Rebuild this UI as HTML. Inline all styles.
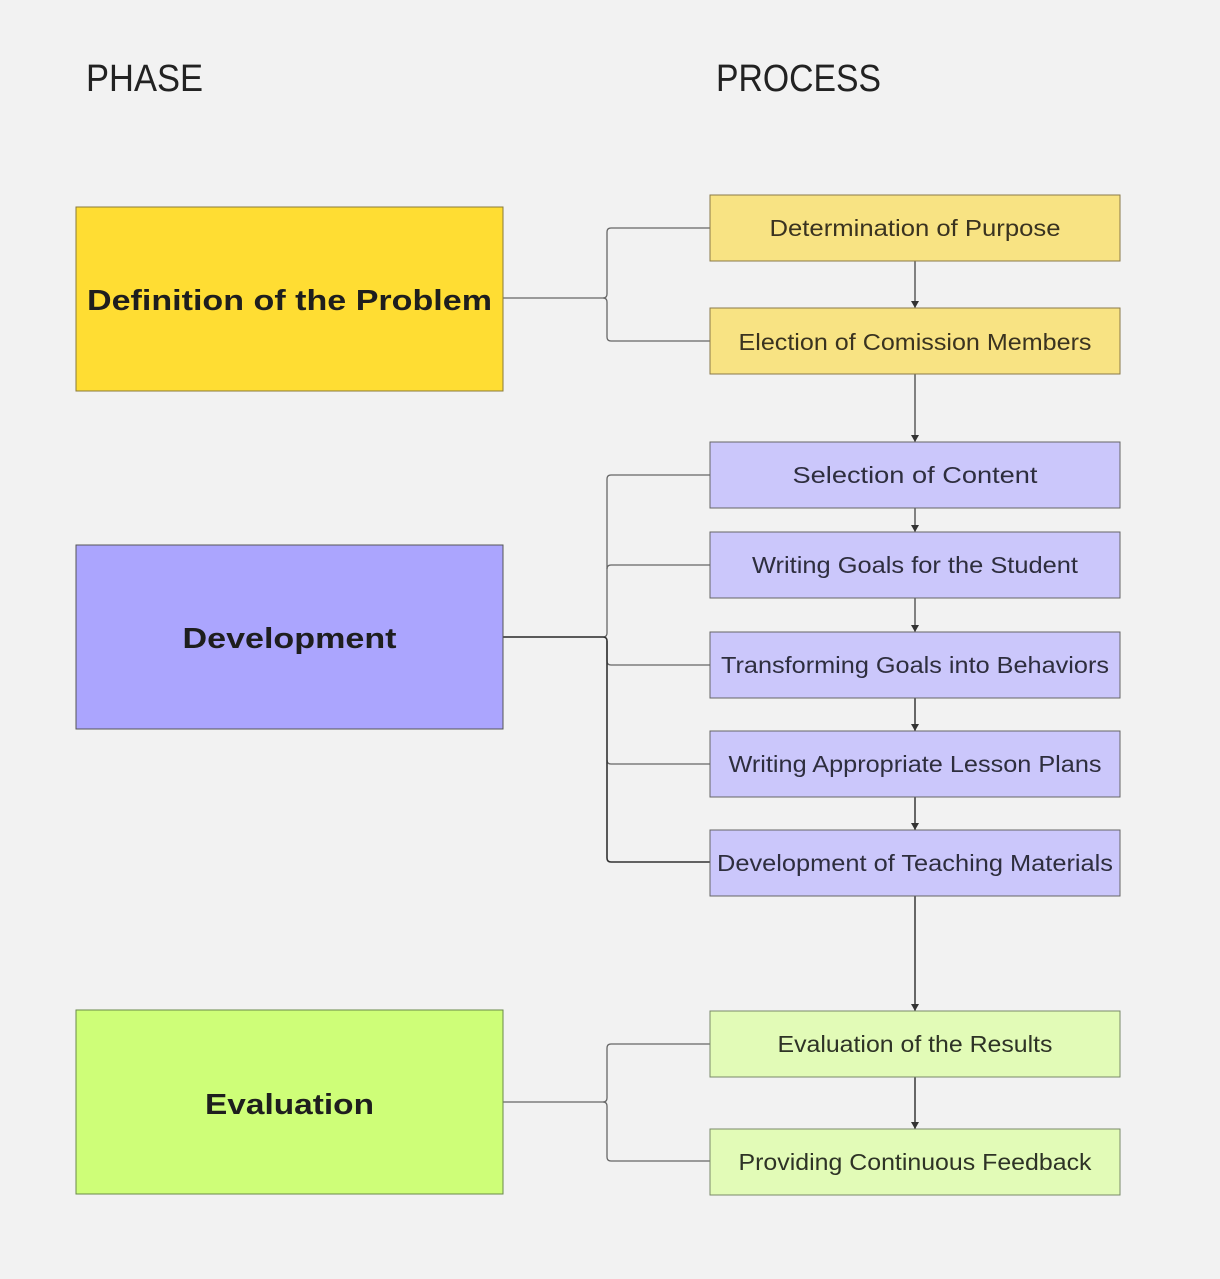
<!DOCTYPE html>
<html><head><meta charset="utf-8"><style>html,body{margin:0;padding:0;background:#f2f2f2}svg{display:block}text{font-family:"Liberation Sans","DejaVu Sans",sans-serif}</style></head>
<body>
<svg width="1220" height="1279" viewBox="0 0 1220 1279" xmlns="http://www.w3.org/2000/svg">
<defs><marker id="a" markerWidth="8" markerHeight="8" refX="7" refY="4" orient="auto" markerUnits="userSpaceOnUse"><path d="M0,0 L7,4 L0,8 z" fill="#333"/></marker></defs>
<rect width="1220" height="1279" fill="#f2f2f2"/>
<text x="86" y="91" font-size="38" fill="#222" textLength="117" lengthAdjust="spacingAndGlyphs">PHASE</text>
<text x="716" y="91" font-size="38" fill="#222" textLength="165" lengthAdjust="spacingAndGlyphs">PROCESS</text>
<g fill="none" stroke="#666" stroke-width="1.3">
<path d="M503,298 H603 Q607,298 607,294 V232 Q607,228 611,228 H710"/>
<path d="M603,298 Q607,298 607,302 V337 Q607,341 611,341 H710"/>
<path d="M503,637 H603 Q607,637 607,633 V479 Q607,475 611,475 H710"/>
<path d="M607,569 Q607,565 611,565 H710"/>
<path d="M607,641 V661 Q607,665 611,665 H710"/>
<path d="M607,760 Q607,764 611,764 H710"/>
<path d="M503,1102 H603 Q607,1102 607,1098 V1048 Q607,1044 611,1044 H710"/>
<path d="M603,1102 Q607,1102 607,1106 V1157 Q607,1161 611,1161 H710"/>
</g>
<path d="M503,637 H603 Q607,637 607,641 V858 Q607,862 611,862 H710" fill="none" stroke="#333" stroke-width="1.6"/>
<g stroke="#444" stroke-width="1.3" fill="none">
<line x1="915" y1="261" x2="915" y2="308" marker-end="url(#a)"/>
<line x1="915" y1="374" x2="915" y2="442" marker-end="url(#a)"/>
<line x1="915" y1="508" x2="915" y2="532" marker-end="url(#a)"/>
<line x1="915" y1="598" x2="915" y2="632" marker-end="url(#a)"/>
<line x1="915" y1="698" x2="915" y2="731" marker-end="url(#a)" stroke-width="1.6"/>
<line x1="915" y1="797" x2="915" y2="830" marker-end="url(#a)" stroke-width="1.6"/>
<line x1="915" y1="896" x2="915" y2="1011" marker-end="url(#a)" stroke-width="1.6"/>
<line x1="915" y1="1077" x2="915" y2="1129" marker-end="url(#a)" stroke-width="1.6"/>
</g>
<rect x="76" y="207" width="427" height="184" fill="#ffdd33" stroke="#8a7a3a"/>
<rect x="76" y="545" width="427" height="184" fill="#aba5fe" stroke="#555"/>
<rect x="76" y="1010" width="427" height="184" fill="#cefe78" stroke="#6a8a4a"/>
<g font-weight="bold" font-size="29" fill="#1e1e1e" text-anchor="middle">
<text x="289.5" y="310" textLength="405" lengthAdjust="spacingAndGlyphs">Definition of the Problem</text>
<text x="289.5" y="648" textLength="214" lengthAdjust="spacingAndGlyphs">Development</text>
<text x="289.5" y="1114" textLength="169" lengthAdjust="spacingAndGlyphs">Evaluation</text>
</g>
<g stroke-width="1">
<rect x="710" y="195" width="410" height="66" fill="#f8e383" stroke="#8a7a4a"/>
<rect x="710" y="308" width="410" height="66" fill="#f8e383" stroke="#8a7a4a"/>
<rect x="710" y="442" width="410" height="66" fill="#cbc7fb" stroke="#666"/>
<rect x="710" y="532" width="410" height="66" fill="#cbc7fb" stroke="#666"/>
<rect x="710" y="632" width="410" height="66" fill="#cbc7fb" stroke="#666"/>
<rect x="710" y="731" width="410" height="66" fill="#cbc7fb" stroke="#666"/>
<rect x="710" y="830" width="410" height="66" fill="#cbc7fb" stroke="#666"/>
<rect x="710" y="1011" width="410" height="66" fill="#e2fbb7" stroke="#7a8a6a"/>
<rect x="710" y="1129" width="410" height="66" fill="#e2fbb7" stroke="#7a8a6a"/>
</g>
<g font-size="23" text-anchor="middle">
<text x="915" y="236" fill="#3a3320" textLength="291" lengthAdjust="spacingAndGlyphs">Determination of Purpose</text>
<text x="915" y="350" fill="#3a3320" textLength="353" lengthAdjust="spacingAndGlyphs">Election of Comission Members</text>
<text x="915" y="483" fill="#2e2e3e" textLength="245" lengthAdjust="spacingAndGlyphs">Selection of Content</text>
<text x="915" y="573" fill="#2e2e3e" textLength="326" lengthAdjust="spacingAndGlyphs">Writing Goals for the Student</text>
<text x="915" y="673" fill="#2e2e3e" textLength="388" lengthAdjust="spacingAndGlyphs">Transforming Goals into Behaviors</text>
<text x="915" y="772" fill="#2e2e3e" textLength="373" lengthAdjust="spacingAndGlyphs">Writing Appropriate Lesson Plans</text>
<text x="915" y="871" fill="#2e2e3e" textLength="396" lengthAdjust="spacingAndGlyphs">Development of Teaching Materials</text>
<text x="915" y="1052" fill="#2e3326" textLength="275" lengthAdjust="spacingAndGlyphs">Evaluation of the Results</text>
<text x="915" y="1170" fill="#2e3326" textLength="353" lengthAdjust="spacingAndGlyphs">Providing Continuous Feedback</text>
</g>
</svg>
</body></html>
